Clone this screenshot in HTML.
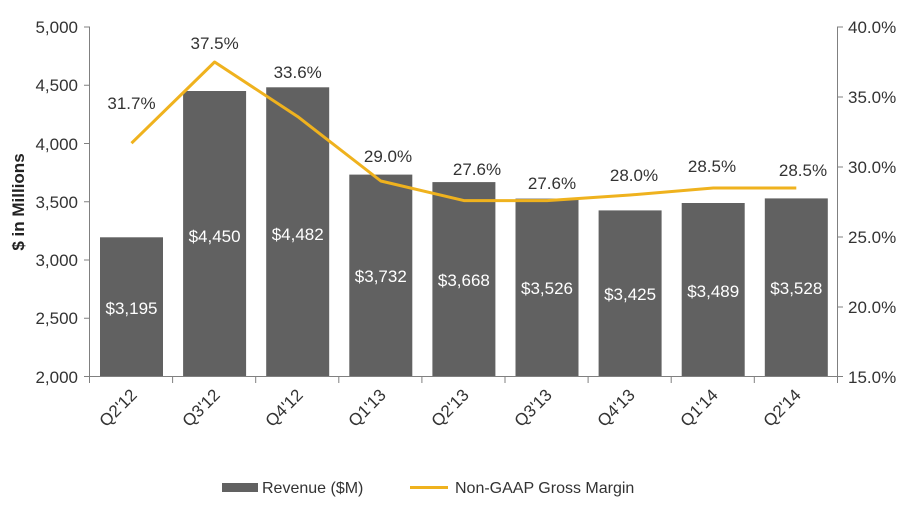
<!DOCTYPE html>
<html><head><style>body{margin:0;background:#fff}</style></head><body>
<svg width="912" height="510" xmlns="http://www.w3.org/2000/svg" font-family="Liberation Sans, Arial, sans-serif">
<rect width="912" height="510" fill="#fff"/>
<g fill="#616161">
<rect x="100" y="237.3" width="63" height="139.2"/>
<rect x="183.1" y="91.0" width="63" height="285.5"/>
<rect x="266.2" y="87.3" width="63" height="289.2"/>
<rect x="349.3" y="174.6" width="63" height="201.9"/>
<rect x="432.4" y="182.1" width="63" height="194.4"/>
<rect x="515.5" y="198.6" width="63" height="177.9"/>
<rect x="598.6" y="210.4" width="63" height="166.1"/>
<rect x="681.7" y="203.0" width="63" height="173.5"/>
<rect x="764.8" y="198.4" width="63" height="178.1"/>
</g>
<g stroke="#808080" stroke-width="1" fill="none">
<line x1="89.5" y1="27" x2="89.5" y2="377"/>
<line x1="837.5" y1="27" x2="837.5" y2="377"/>
<line x1="89.5" y1="376.5" x2="837.5" y2="376.5"/>
<path d="M84 27H90M84 85.25H90M84 143.5H90M84 201.75H90M84 260H90M84 318.25H90M84 376.5H90"/>
<path d="M837 27H843M837 97H843M837 167H843M837 237H843M837 307H843M837 376.5H843"/>
<path d="M89.5 377v6M172.6 377v6M255.7 377v6M338.8 377v6M421.9 377v6M505 377v6M588.1 377v6M671.2 377v6M754.3 377v6M837.5 377v6"/>
</g>
<polyline fill="none" stroke="#EFB21E" stroke-width="3" stroke-linejoin="round" points="131.5,143.2 214.6,62 297.7,116.6 380.8,181 463.9,200.6 547,200.6 630.1,195 713.2,188 796.3,188"/>
<g font-size="17" fill="#333" text-anchor="end">
<text x="78" y="33">5,000</text><text x="78" y="91">4,500</text><text x="78" y="150">4,000</text><text x="78" y="208">3,500</text><text x="78" y="266">3,000</text><text x="78" y="324">2,500</text><text x="78" y="383">2,000</text>
</g>
<g font-size="17" fill="#333" text-anchor="start">
<text x="848" y="33">40.0%</text><text x="848" y="103">35.0%</text><text x="848" y="173">30.0%</text><text x="848" y="243">25.0%</text><text x="848" y="313">20.0%</text><text x="848" y="383">15.0%</text>
</g>
<text transform="translate(24,202) rotate(-90)" font-size="17" font-weight="bold" fill="#222" text-anchor="middle">$ in Millions</text>
<g font-size="17" fill="#fff" text-anchor="middle">
<text x="131.5" y="314">$3,195</text><text x="214.6" y="242">$4,450</text><text x="297.7" y="240">$4,482</text><text x="380.8" y="282">$3,732</text><text x="463.9" y="286">$3,668</text><text x="547" y="294">$3,526</text><text x="630.1" y="300">$3,425</text><text x="713.2" y="297">$3,489</text><text x="796.3" y="294">$3,528</text>
</g>
<g font-size="17" fill="#333" text-anchor="middle">
<text x="131.5" y="109">31.7%</text><text x="214.6" y="49">37.5%</text><text x="297.7" y="78">33.6%</text><text x="388" y="162">29.0%</text><text x="477" y="175">27.6%</text><text x="552" y="189">27.6%</text><text x="634" y="181">28.0%</text><text x="712" y="172">28.5%</text><text x="803" y="176">28.5%</text>
</g>
<g font-size="17" fill="#333" text-anchor="end">
<text transform="translate(138,396) rotate(-45)">Q2'12</text>
<text transform="translate(221,396) rotate(-45)">Q3'12</text>
<text transform="translate(304,396) rotate(-45)">Q4'12</text>
<text transform="translate(387,396) rotate(-45)">Q1'13</text>
<text transform="translate(470,396) rotate(-45)">Q2'13</text>
<text transform="translate(553,396) rotate(-45)">Q3'13</text>
<text transform="translate(636,396) rotate(-45)">Q4'13</text>
<text transform="translate(719,396) rotate(-45)">Q1'14</text>
<text transform="translate(802,396) rotate(-45)">Q2'14</text>
</g>
<rect x="222" y="483" width="36" height="9" fill="#616161"/>
<text x="262" y="493" font-size="16" fill="#333">Revenue ($M)</text>
<line x1="410" y1="487.5" x2="448" y2="487.5" stroke="#EFB21E" stroke-width="3"/>
<text x="455" y="493" font-size="16" fill="#333">Non-GAAP Gross Margin</text>
</svg>
</body></html>
